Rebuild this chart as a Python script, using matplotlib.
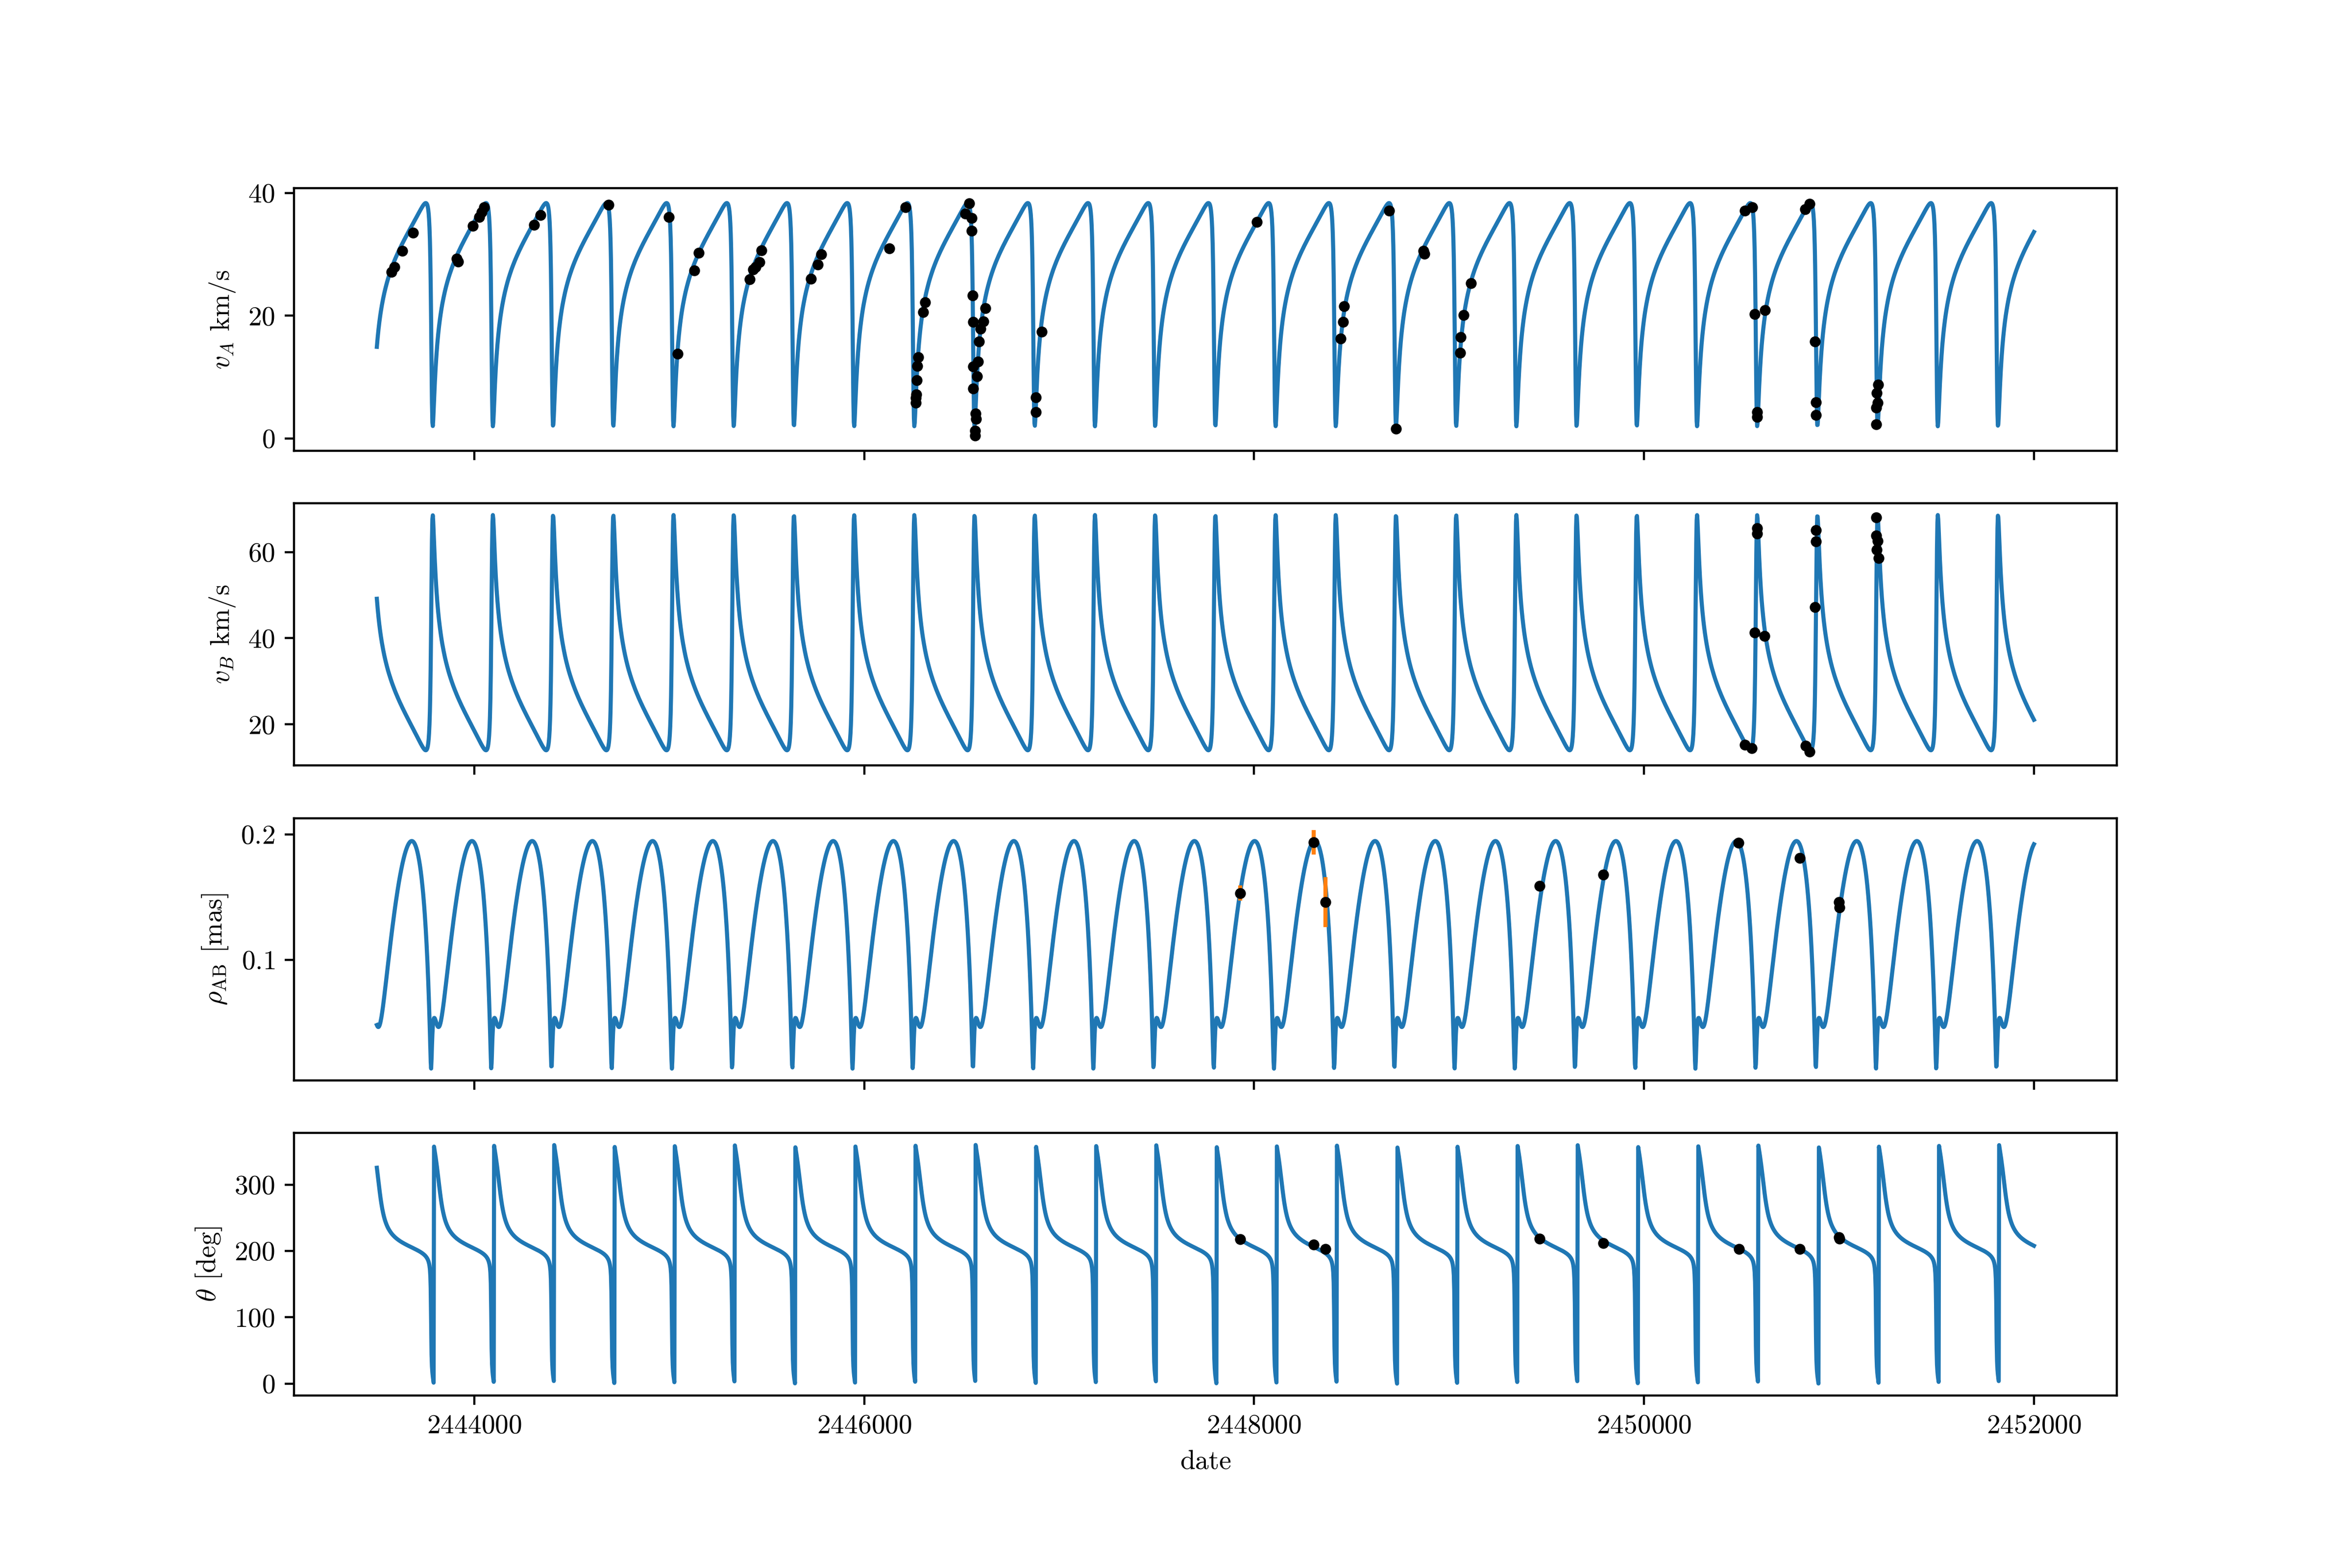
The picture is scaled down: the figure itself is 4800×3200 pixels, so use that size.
import numpy as np
import matplotlib
matplotlib.use("Agg")
import matplotlib.pyplot as plt

plt.rcParams["font.family"] = "serif"
plt.rcParams["font.serif"] = ["cmr10"]
plt.rcParams["mathtext.fontset"] = "cm"
plt.rcParams["axes.formatter.use_mathtext"] = True
plt.rcParams["axes.formatter.useoffset"] = False

# radial velocities of star A
vA_date = [2443576.2, 2443589.0, 2443630.0, 2443686.4, 2443909.6, 2443917.3, 2443991.6, 2444025.0,
           2444037.8, 2444050.6, 2444307.2, 2444340.4, 2444689.2, 2444997.0, 2445043.1, 2445127.8,
           2445150.9, 2445412.5, 2445430.4, 2445443.2, 2445463.7, 2445474.0, 2445727.9, 2445761.3,
           2445779.2, 2446128.0, 2446212.6, 2446276.8, 2446271.7, 2446269.1, 2446266.5, 2446264.0,
           2446264.0, 2446302.4, 2446312.7, 2446538.4, 2446517.8, 2446551.2, 2446551.2, 2446556.3,
           2446558.9, 2446558.9, 2446558.9, 2446571.7, 2446574.3, 2446569.2, 2446569.2, 2446620.4,
           2446610.2, 2446597.3, 2446589.6, 2446584.5, 2446579.5, 2446910.3, 2446879.5, 2446879.5,
           2448014.6, 2448461.9, 2448457.1, 2448442.7, 2448692.7, 2448728.7, 2448868.3, 2448873.0,
           2449111.1, 2449075.0, 2449060.6, 2449055.8, 2450517.2, 2450554.3, 2450566.6, 2450619.5,
           2450579.0, 2450579.0, 2450827.6, 2450848.7, 2450876.9, 2450880.5, 2450880.5, 2451201.3,
           2451194.2, 2451197.8, 2451190.8, 2451190.8]
vA_val = [27.1, 27.9, 30.6, 33.55, 29.3, 28.8, 34.6, 36.1,
          36.9, 37.7, 34.8, 36.36, 38.04, 36.1, 13.8, 27.35,
          30.28, 25.97, 27.5, 27.96, 28.72, 30.65, 26.04, 28.36,
          30.0, 30.95, 37.67, 13.24, 11.77, 9.48, 7.19, 6.58,
          5.82, 20.57, 22.22, 38.34, 36.66, 35.9, 33.8, 23.32,
          19.01, 11.71, 8.11, 4.08, 3.22, 1.24, 0.47, 21.24,
          19.1, 17.88, 15.83, 12.53, 10.15, 17.36, 6.67, 4.29,
          35.29, 21.55, 19.0, 16.3, 37.1, 1.6, 30.56, 30.1,
          25.27, 20.08, 16.5, 13.97, 37.12, 37.67, 20.26, 20.87,
          4.29, 3.53, 37.37, 38.19, 15.8, 5.88, 3.83, 8.78,
          7.44, 5.82, 4.99, 2.3]
vA_err = 0.5

# radial velocities of star B
vB_date = [2450581.1, 2450581.1, 2450567.6, 2450617.7, 2450516.6, 2450552.3, 2450882.2, 2450882.2,
           2450877.4, 2450829.3, 2450848.5, 2451191.8, 2451191.8, 2451197.5, 2451194.6, 2451204.3]
vB_val = [65.5, 64.3, 41.3, 40.46, 15.3, 14.45, 65.1, 62.5,
          47.2, 15.0, 13.7, 68.07, 63.85, 62.6, 60.5, 58.6]
vB_err = 0.5

# relative astrometry
rho_date = [2447927.8, 2448304.5, 2448365.5, 2449463.7, 2449790.6, 2450484.4, 2450799.9, 2450999.9, 2451003.3]
rho_val = [0.1532, 0.1937, 0.1461, 0.1591, 0.168, 0.1932, 0.1813, 0.146, 0.1416]
rho_err = [0.006, 0.0098, 0.02, 0.003, 0.003, 0.003, 0.003, 0.003, 0.003]

theta_date = [2447927.8, 2448304.5, 2448365.5, 2449463.7, 2449790.6, 2450487.3, 2450800.0, 2450999.9, 2451003.3]
theta_val = [218.0, 209.5, 202.7, 218.9, 211.9, 203.4, 202.9, 221.0, 218.5]

# orbital elements of the model
P = 308.8199          # days
T0 = 2447796.213      # periastron
ecc = 0.743043
omega = 128.656       # deg, star A
K_A = 18.1814
K_B = 27.2991
gamma = 28.6149
a_ang = 0.148342      # mas
cos_i = -0.315515
Omega = 11.959        # deg

t_start, t_end = 2443500, 2452000


def kepler(M, e):
    E = M + 0.85 * e * np.sign(np.sin(M))
    for _ in range(40):
        E = E - (E - e * np.sin(E) - M) / (1 - e * np.cos(E))
    return E


def orbit(t):
    w = np.radians(omega)
    Om = np.radians(Omega)
    M = np.mod(2 * np.pi * (t - T0) / P, 2 * np.pi)
    E = kepler(M, ecc)
    nu = 2 * np.arctan2(np.sqrt(1 + ecc) * np.sin(E / 2), np.sqrt(1 - ecc) * np.cos(E / 2))
    r = a_ang * (1 - ecc * np.cos(E))
    c = np.cos(nu + w) + ecc * np.cos(w)
    vA = gamma + K_A * c
    vB = gamma - K_B * c
    u = nu + w + np.pi
    X = r * (np.cos(Om) * np.cos(u) - np.sin(Om) * np.sin(u) * cos_i)
    Y = r * (np.sin(Om) * np.cos(u) + np.cos(Om) * np.sin(u) * cos_i)
    rho = np.hypot(X, Y)
    theta = np.degrees(np.arctan2(Y, X)) % 360
    return vA, vB, rho, theta


t = np.linspace(t_start, t_end, 4000)
vA, vB, rho, theta = orbit(t)

fig, ax = plt.subplots(4, 1, sharex=True, figsize=(12, 8))

ax[0].plot(t, vA, color="C0")
ax[0].errorbar(vA_date, vA_val, yerr=vA_err, fmt=".k", ecolor="C1")
ax[0].set_ylabel(r"$v_A$ km/s")

ax[1].plot(t, vB, color="C0")
ax[1].errorbar(vB_date, vB_val, yerr=vB_err, fmt=".k", ecolor="C1")
ax[1].set_ylabel(r"$v_B$ km/s")

ax[2].plot(t, rho, color="C0")
ax[2].errorbar(rho_date, rho_val, yerr=rho_err, fmt=".k", ecolor="C1")
ax[2].set_ylabel(r"$\rho_\mathrm{AB}$ [mas]")

ax[3].plot(t, theta, color="C0")
ax[3].plot(theta_date, theta_val, ".k")
ax[3].set_ylabel(r"$\theta$ [deg]")
ax[3].set_xlabel("date")
ax[3].ticklabel_format(axis="x", style="plain", useOffset=False)

fig.savefig("out.png", dpi=400)
